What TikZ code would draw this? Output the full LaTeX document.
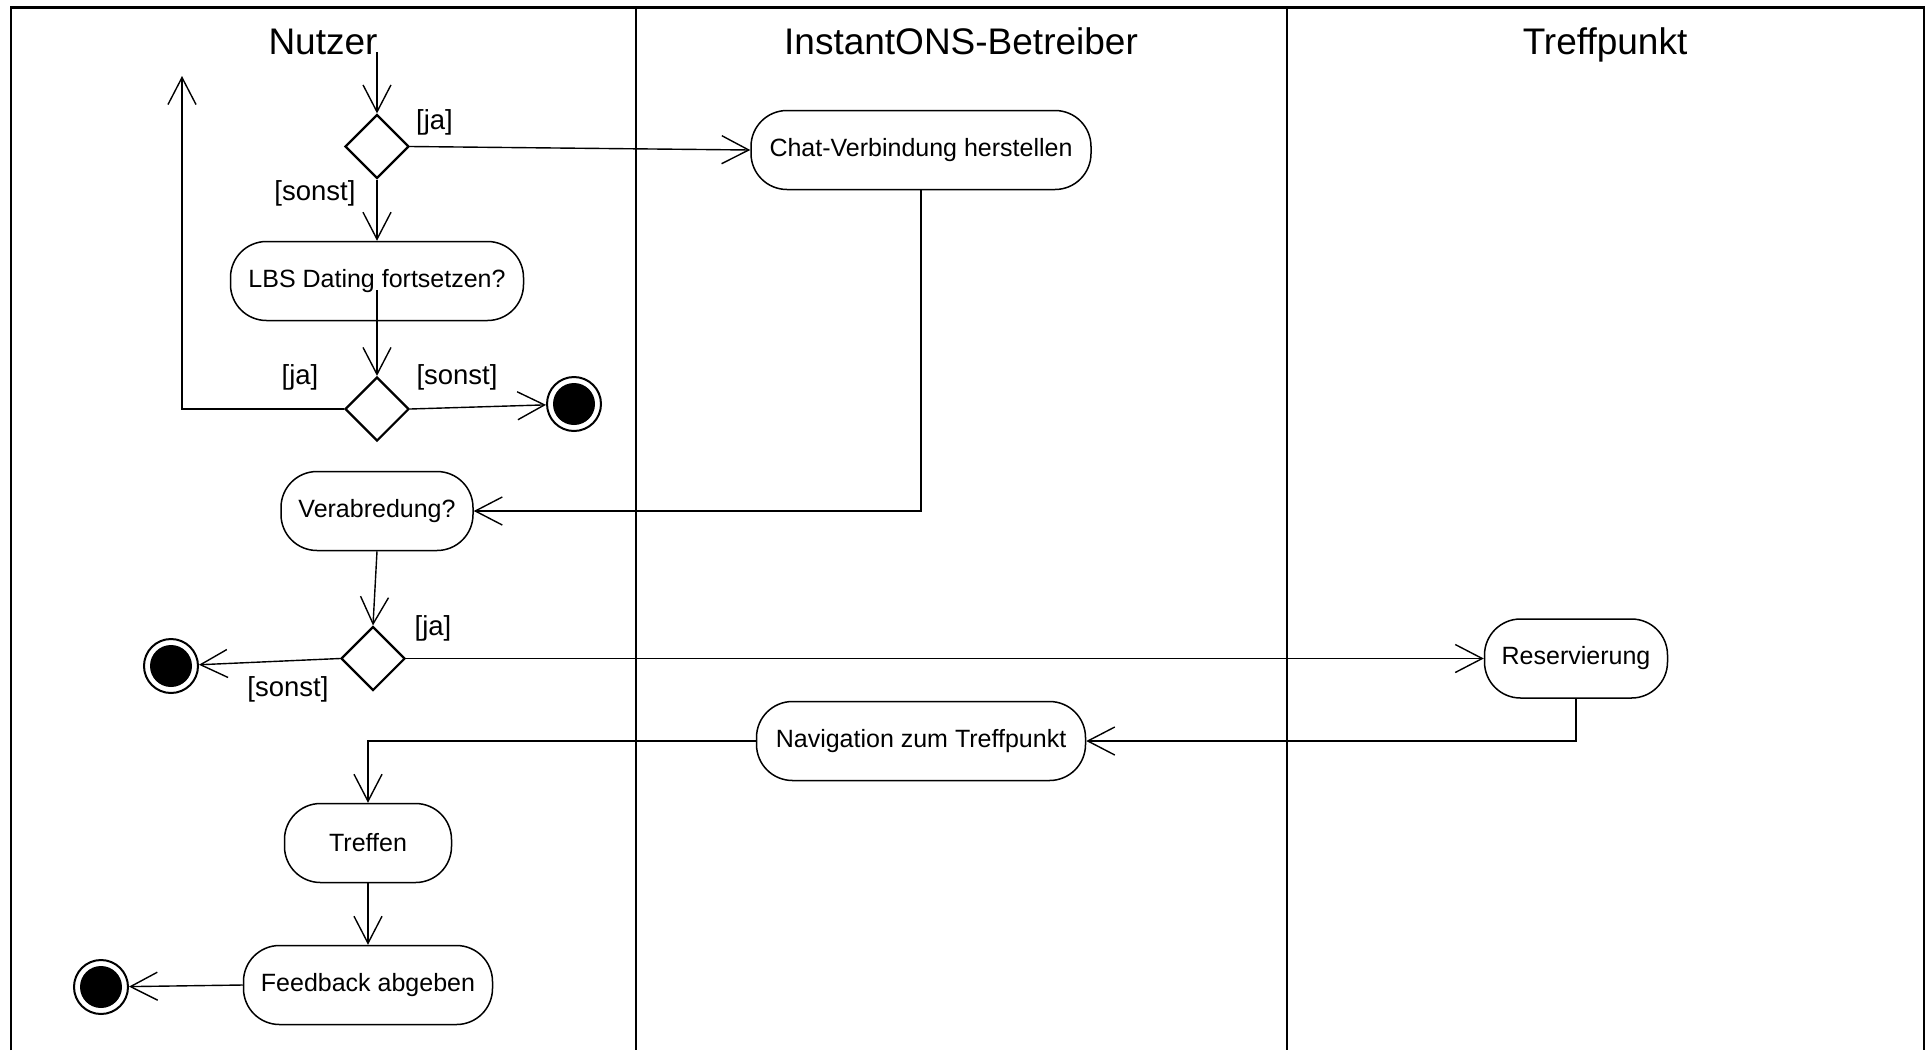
\documentclass[tikz,border=0pt]{standalone}
\usepackage{fontspec}
\setmainfont{Liberation Sans}
\usetikzlibrary{shapes.geometric,arrows.meta}

\begin{document}
\begin{tikzpicture}[x=1pt,y=-1pt,
  lane/.style={line width=2.6pt,line join=miter},
  action/.style={draw,line width=1.5pt,rounded corners=36pt,minimum height=79pt,
    inner sep=0pt,font=\fontsize{25}{30}\selectfont},
  decision/.style={draw,diamond,aspect=1,minimum size=64pt,inner sep=0pt,line width=2.2pt},
  final/.style={circle,draw,line width=2pt,minimum size=54pt,inner sep=0pt,
    path picture={\fill (path picture bounding box.center) circle (21pt);}},
  flow/.style={line width=1.4pt,-{Straight Barb[length=27pt,width=28pt,line width=1.4pt]}},
  guard/.style={font=\fontsize{27.5}{32}\selectfont,inner sep=0pt},
  lanetitle/.style={font=\fontsize{37}{44}\selectfont,anchor=base,inner sep=0pt}]

\useasboundingbox (0,0) rectangle (1930,1050);

% swimlane frame (open at the bottom)
\draw[lane] (11,1050) -- (11,7.5) -- (1924,7.5) -- (1924,1050);
\draw[lane] (636,7.5) -- (636,1050);
\draw[lane] (1287,7.5) -- (1287,1050);

% lane titles
\node[lanetitle] (tN) at (323,54) {Nutzer};
\node[lanetitle] (tI) at (961,54) {InstantONS-Betreiber};
\node[lanetitle] (tT) at (1605,54) {Treffpunkt};

% activity nodes
\coordinate (start) at (377,52);
\node[decision] (d1) at (377,146.5) {};
\node[action,minimum width=340pt] (chat) at (921,150) {Chat-Verbindung herstellen};
\node[action,minimum width=293pt] (lbs) at (377,281) {LBS Dating fortsetzen?};
\node[decision] (d2) at (377,409) {};
\node[final] (e1) at (574,404) {};
\coordinate (loop) at (182,76);
\node[action,minimum width=192pt] (verab) at (377,511) {Verabredung?};
\node[decision] (d3) at (373,658.5) {};
\node[final] (e2) at (171,666) {};
\node[action,minimum width=183pt] (res) at (1576,658.5) {Reservierung};
\node[action,minimum width=329pt] (nav) at (921,741) {Navigation zum Treffpunkt};
\node[action,minimum width=167pt] (tref) at (368,843) {Treffen};
\node[action,minimum width=249pt] (feed) at (368,985) {Feedback abgeben};
\node[final] (e3) at (101,987) {};

% guards
\node[guard] (g1ja) at (434.5,122) {[ja]};
\node[guard] (g1so) at (315,193) {[sonst]};
\node[guard] (g2ja) at (300,377) {[ja]};
\node[guard] (g2so) at (457,377) {[sonst]};
\node[guard] (g3ja) at (433,628) {[ja]};
\node[guard] (g3so) at (288,689) {[sonst]};

% control flow
\draw[flow] (start) -- (d1.north);
\draw[flow] (d1.east) -- (chat.west);
\draw[flow] (d1.south) -- (lbs.north);
\draw[flow] ([yshift=-9pt]lbs.center) -- (d2.north);
\draw[flow] (d2.east) -- (e1);
\draw[flow] (d2.west) -| (loop);
\draw[flow] (chat.south) |- (verab.east);
\draw[flow] (verab.south) -- (d3.north);
\draw[flow] (d3.west) -- (e2);
\draw[flow] (d3.east) -- (res.west);
\draw[flow] (res.south) |- (nav.east);
\draw[flow] (nav.west) -| (tref.north);
\draw[flow] (tref.south) -- (feed.north);
\draw[flow] (feed.west) -- (e3);
\end{tikzpicture}
\end{document}
